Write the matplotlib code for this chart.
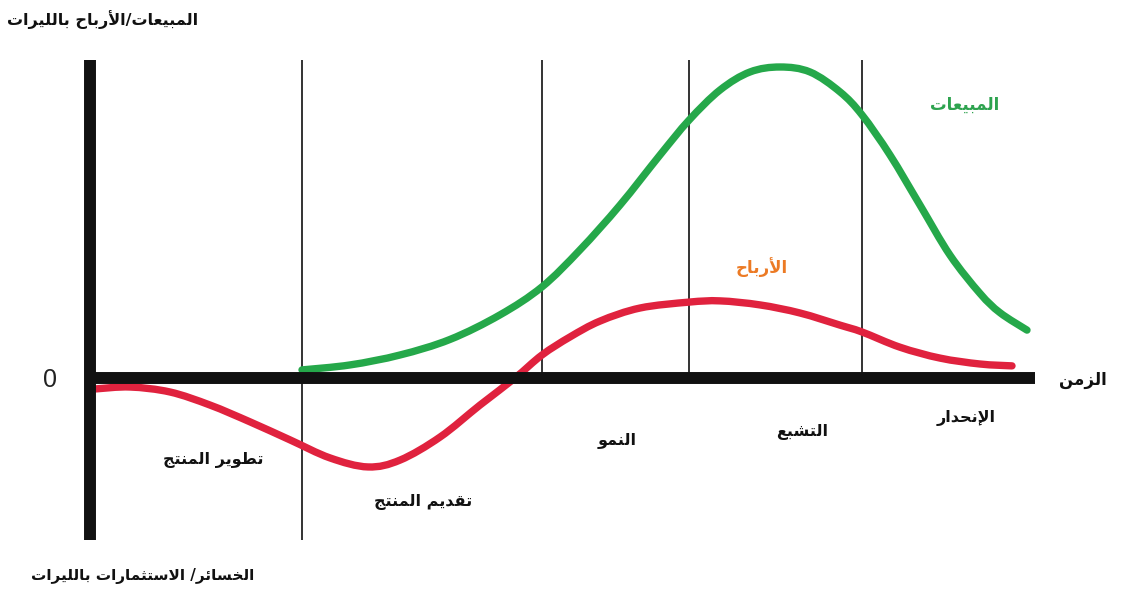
import matplotlib
matplotlib.use("Agg")
import matplotlib.pyplot as plt
from matplotlib.path import Path
from matplotlib.patches import PathPatch

# ---------------- data ----------------
# time units (arbitrary), value units (sales peak = 100)
stage_bounds = [21.2, 45.2, 59.9, 77.2]
axis_end_x = 94.5
axis_top_y = 102.3
axis_bottom_y = -52.1

sales_t = [21.2, 26, 31, 36, 41, 45.2, 49, 53, 57, 59.9, 63, 66, 69, 72, 75, 77.2,
           80, 83, 86, 89, 91, 93.7]
sales_v = [2.6, 4.2, 7.4, 12.4, 20.3, 29.3, 41.2, 55.6, 71.7, 82.9, 92.6, 98.4, 100,
           98.4, 92.0, 84.6, 71.7, 55.6, 39.5, 27.2, 21.0, 15.4]

profit_t = [0.6, 4, 8, 12, 16, 20, 24, 27.8, 31, 35, 39, 42.5, 45.2, 48, 51, 55, 59.9,
            63, 67, 71, 75, 77.2, 81, 85, 89, 92.2]
profit_v = [-3.5, -2.9, -4.5, -8.7, -14.1, -19.9, -25.7, -28.6, -26.4, -19.0, -8.7, 0,
            7.4, 13.2, 18.3, 22.5, 24.4, 24.8, 23.5, 20.9, 17.0, 14.8, 9.9, 6.4, 4.5, 3.9]

title_top = "المبيعات/الأرباح بالليرات"
title_bottom = "الخسائر/ الاستثمارات بالليرات"
sales_label = "المبيعات"
profit_label = "الأرباح"
time_label = "الزمن"
stage_labels = ["تطوير المنتج", "تقديم المنتج", "النمو", "التشبع", "الإنحدار"]

# ---------------- simple Arabic shaping ----------------
FORMS = {
    '\u0627': (0xFE8D, 0xFE8E, None, None),
    '\u0623': (0xFE83, 0xFE84, None, None),
    '\u0625': (0xFE87, 0xFE88, None, None),
    '\u0628': (0xFE8F, 0xFE90, 0xFE91, 0xFE92),
    '\u062A': (0xFE95, 0xFE96, 0xFE97, 0xFE98),
    '\u062B': (0xFE99, 0xFE9A, 0xFE9B, 0xFE9C),
    '\u062C': (0xFE9D, 0xFE9E, 0xFE9F, 0xFEA0),
    '\u062D': (0xFEA1, 0xFEA2, 0xFEA3, 0xFEA4),
    '\u062E': (0xFEA5, 0xFEA6, 0xFEA7, 0xFEA8),
    '\u062F': (0xFEA9, 0xFEAA, None, None),
    '\u0631': (0xFEAD, 0xFEAE, None, None),
    '\u0632': (0xFEAF, 0xFEB0, None, None),
    '\u0633': (0xFEB1, 0xFEB2, 0xFEB3, 0xFEB4),
    '\u0634': (0xFEB5, 0xFEB6, 0xFEB7, 0xFEB8),
    '\u0637': (0xFEC1, 0xFEC2, 0xFEC3, 0xFEC4),
    '\u0639': (0xFEC9, 0xFECA, 0xFECB, 0xFECC),
    '\u0642': (0xFED5, 0xFED6, 0xFED7, 0xFED8),
    '\u0644': (0xFEDD, 0xFEDE, 0xFEDF, 0xFEE0),
    '\u0645': (0xFEE1, 0xFEE2, 0xFEE3, 0xFEE4),
    '\u0646': (0xFEE5, 0xFEE6, 0xFEE7, 0xFEE8),
    '\u0648': (0xFEED, 0xFEEE, None, None),
    '\u064A': (0xFEF1, 0xFEF2, 0xFEF3, 0xFEF4),
    '\u0626': (0xFE89, 0xFE8A, 0xFE8B, 0xFE8C),
}
LAMALEF = {'\u0627': (0xFEFB, 0xFEFC), '\u0623': (0xFEF7, 0xFEF8), '\u0625': (0xFEF9, 0xFEFA)}


def joins_next(c):
    return c in FORMS and FORMS[c][2] is not None


def shape(s):
    chars = list(s)
    out = []
    i = 0
    while i < len(chars):
        c = chars[i]
        if c not in FORMS:
            out.append(c)
            i += 1
            continue
        prev = chars[i - 1] if i > 0 else None
        con_prev = prev is not None and joins_next(prev)
        if c == '\u0644' and i + 1 < len(chars) and chars[i + 1] in LAMALEF:
            iso, fin = LAMALEF[chars[i + 1]]
            out.append(chr(fin if con_prev else iso))
            i += 2
            continue
        nxt = chars[i + 1] if i + 1 < len(chars) else None
        con_next = joins_next(c) and nxt is not None and nxt in FORMS
        iso, fin, ini, med = FORMS[c]
        if con_prev and con_next:
            f = med
        elif con_prev:
            f = fin
        elif con_next:
            f = ini
        else:
            f = iso
        out.append(chr(f))
        i += 1
    return ''.join(reversed(out))


def smooth_path(xs, ys):
    """Catmull-Rom through the read points, drawn as cubic Bezier path."""
    pts = list(zip(xs, ys))
    n = len(pts)
    verts = [pts[0]]
    codes = [Path.MOVETO]
    for i in range(n - 1):
        p0 = pts[i - 1] if i > 0 else pts[i]
        p1 = pts[i]
        p2 = pts[i + 1]
        p3 = pts[i + 2] if i + 2 < n else pts[i + 1]
        c1 = (p1[0] + (p2[0] - p0[0]) / 6, p1[1] + (p2[1] - p0[1]) / 6)
        c2 = (p2[0] - (p3[0] - p1[0]) / 6, p2[1] - (p3[1] - p1[1]) / 6)
        verts += [c1, c2, p2]
        codes += [Path.CURVE4] * 3
    return Path(verts, codes)


# ---------------- figure ----------------
plt.rcParams['font.family'] = ['DejaVu Sans']
fig = plt.figure(figsize=(11.39, 5.92), dpi=100)
ax = fig.add_axes([0, 0, 1, 1])
ax.set_xlim(-9.0, 104.9)
ax.set_ylim(-(592 - 378) / 3.11, 378 / 3.11)
ax.axis('off')

# thin stage separators
ax.vlines(stage_bounds[0], axis_bottom_y, axis_top_y, color='#111111', lw=1.2, zorder=1)
ax.vlines(stage_bounds[1:], 0, axis_top_y, color='#111111', lw=1.2, zorder=1)

# curves
ax.add_patch(PathPatch(smooth_path(sales_t, sales_v), fill=False, edgecolor='#25a84a',
                       lw=5.3, capstyle='round', joinstyle='round', zorder=3))
ax.add_patch(PathPatch(smooth_path(profit_t, profit_v), fill=False, edgecolor='#e0223e',
                       lw=5.3, capstyle='round', joinstyle='round', zorder=3))

# thick axes
ax.plot([0, 0], [axis_bottom_y, axis_top_y], color='#111111', lw=8.6,
        solid_capstyle='butt', zorder=4)
ax.plot([0, axis_end_x], [0, 0], color='#111111', lw=8.6, solid_capstyle='butt', zorder=4)

bold = dict(fontweight='bold', ha='center', va='center')
ax.text(1.3, (378 - 20) / 3.11, shape(title_top), fontsize=11.5, color='#111111', **bold)
ax.text(5.3, (378 - 576) / 3.11, shape(title_bottom), fontsize=11, color='#111111', **bold)
ax.text(-4.0, (378 - 380) / 3.11, "0", fontsize=18, family='Liberation Sans',
        ha='center', va='center', color='#222222')
ax.text(87.5, (378 - 105) / 3.11, shape(sales_label), fontsize=12, color='#2ea34f', **bold)
ax.text(67.2, (378 - 267) / 3.11, shape(profit_label), fontsize=12, color='#ec7a24', **bold)
ax.text(99.3, (378 - 380) / 3.11, shape(time_label), fontsize=12, color='#111111', **bold)

stage_pos = [(12.3, 460), (33.3, 502), (52.7, 440), (71.2, 432), (87.6, 418)]
for lab, (tx, py) in zip(stage_labels, stage_pos):
    ax.text(tx, (378 - py) / 3.11, shape(lab), fontsize=11.5, color='#111111', **bold)

fig.savefig("out.png", dpi=100, facecolor='white')
